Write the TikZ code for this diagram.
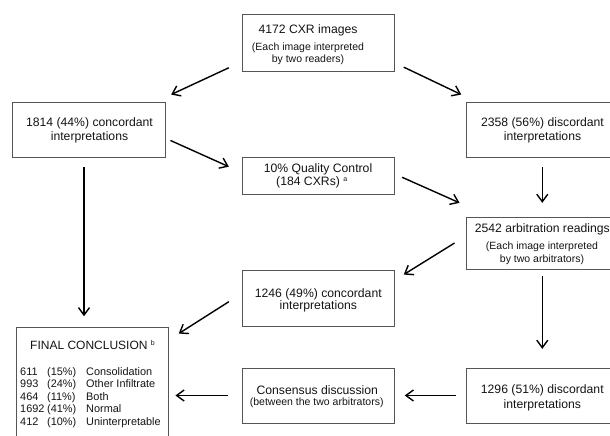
\documentclass[tikz,border=0pt]{standalone}
\usepackage{fontspec}
\setmainfont{Liberation Sans}
\usetikzlibrary{arrows.meta}
\definecolor{boxgray}{RGB}{85,85,85}
\definecolor{txt}{RGB}{20,20,20}
\tikzset{
  boxnode/.style={draw=boxgray, line width=0.9pt, inner sep=0pt, rectangle},
  bigt/.style={font=\fontsize{12.2}{14}\selectfont, anchor=base, inner sep=0pt, text=txt},
  smt/.style={font=\fontsize{10.5}{12}\selectfont, anchor=base, inner sep=0pt, text=txt},
  lst/.style={font=\fontsize{10.9}{12}\selectfont, anchor=base west, inner sep=0pt, text=txt},
  supt/.style={font=\fontsize{7}{8}\selectfont, anchor=base west, inner sep=0pt, text=txt},
  arr/.style={line width=1.4pt, -{Straight Barb[length=7.5pt,width=11pt]}}
}
\begin{document}
\begin{tikzpicture}[x=1pt,y=-1pt]
\useasboundingbox (0,0) rectangle (610,436);
\clip (0,0) rectangle (610,436);
% boxes
\node[boxnode, minimum width=152pt, minimum height=57pt] (top) at (318,42.5) {};
\node[boxnode, minimum width=153pt, minimum height=55pt] (c1814) at (88.5,129.5) {};
\node[boxnode, minimum width=152.6pt, minimum height=55pt] (d2358) at (542.3,129.5) {};
\node[boxnode, minimum width=152pt, minimum height=37pt] (qc) at (318,175.5) {};
\node[boxnode, minimum width=152.6pt, minimum height=52pt] (arb) at (542.3,243) {};
\node[boxnode, minimum width=152pt, minimum height=56pt] (c1246) at (318,298) {};
\node[boxnode, minimum width=152pt, minimum height=119pt] (final) at (92,386.5) {};
\node[boxnode, minimum width=152pt, minimum height=55pt] (cons) at (318,395.5) {};
\node[boxnode, minimum width=152.6pt, minimum height=55pt] (d1296) at (542.3,395.5) {};
% texts
\node[bigt] (t1a) at (308,33.3) {4172 CXR images};
\node[smt] (t1b) at (308,50.5) {(Each image interpreted};
\node[smt] (t1c) at (308,63) {by two readers)};
\node[bigt] (t2a) at (89.5,126.7) {1814 (44\%) concordant};
\node[bigt] (t2b) at (89.5,140.7) {interpretations};
\node[bigt] (t3a) at (542.5,126.7) {2358 (56\%) discordant};
\node[bigt] (t3b) at (542.5,140.7) {interpretations};
\node[bigt] (t4a) at (318,172.5) {10\% Quality Control};
\node[bigt, anchor=base west] (t4b) at (276,185) {(184 CXRs)};
\node[supt] (t4s) at ([xshift=3pt,yshift=4pt]t4b.base east) {a};
\node[bigt] (t5a) at (542.3,232.3) {2542 arbitration readings};
\node[smt] (t5b) at (542,249.3) {(Each image interpreted};
\node[smt] (t5c) at (542,262.7) {by two arbitrators)};
\node[bigt] (t6a) at (318.3,297) {1246 (49\%) concordant};
\node[bigt] (t6b) at (318.3,309.7) {interpretations};
\node[bigt] (t7a) at (317.3,394.3) {Consensus discussion};
\node[smt] (t7b) at (316.7,405.5) {(between the two arbitrators)};
\node[bigt] (t8a) at (542.3,393.3) {1296 (51\%) discordant};
\node[bigt] (t8b) at (542.3,408.3) {interpretations};
\node[bigt, anchor=base west, font=\fontsize{12}{14}\selectfont] (t9) at (30,349.3) {FINAL CONCLUSION};
\node[supt] (t9s) at ([xshift=3pt,yshift=4pt]t9.base east) {b};
% list
\node[lst] (n1) at (20,375) {611};
\node[lst] (p1) at (47,375) {(15\%)};
\node[lst] (l1) at (86,375) {Consolidation};
\node[lst] (n2) at (20,387.5) {993};
\node[lst] (p2) at (47,387.5) {(24\%)};
\node[lst] (l2) at (86,387.5) {Other Infiltrate};
\node[lst] (n3) at (20,400) {464};
\node[lst] (p3) at (47,400) {(11\%)};
\node[lst] (l3) at (86,400) {Both};
\node[lst] (n4) at (20,412.5) {1692};
\node[lst] (p4) at (47,412.5) {(41\%)};
\node[lst] (l4) at (86,412.5) {Normal};
\node[lst] (n5) at (20,425) {412};
\node[lst] (p5) at (47,425) {(10\%)};
\node[lst] (l5) at (86,425) {Uninterpretable};
% arrows
\draw[arr] ([shift={(-12.7,-3.7)}]top.south west) -- ([shift={(5.7,-7)}]c1814.north east);
\draw[arr] ([shift={(9.3,-4.3)}]top.south east) -- ([shift={(-4.3,-7)}]d2358.north west);
\draw[arr] ([shift={(5,-17)}]c1814.south east) -- ([shift={(-12.7,-8.8)}]qc.west);
\draw[arr] ([shift={(7.7,1.8)}]qc.east) -- ([shift={(-6,-13.7)}]arb.north west);
\draw[arr, shorten <=9.7pt, shorten >=13.7pt] (d2358.south) -- (arb.north);
\draw[arr] ([shift={(-4.5,9.7)}]c1814.south) -- ([shift={(-8,-10.3)}]final.north);
\draw[arr] ([shift={(-11,0)}]arb.west) -- ([shift={(9.3,5)}]c1246.north east);
\draw[arr] ([shift={(-12.7,3.7)}]c1246.west) -- ([shift={(10.3,7)}]final.north east);
\draw[arr, shorten <=7pt, shorten >=18.7pt] (arb.south) -- (d1296.north);
\draw[arr, shorten <=9.3pt, shorten >=10.3pt] (d1296.west) -- (cons.east);
\draw[arr, shorten <=13.7pt, shorten >=7pt] (cons.west) -- (cons.west -| final.east);
\end{tikzpicture}
\end{document}
